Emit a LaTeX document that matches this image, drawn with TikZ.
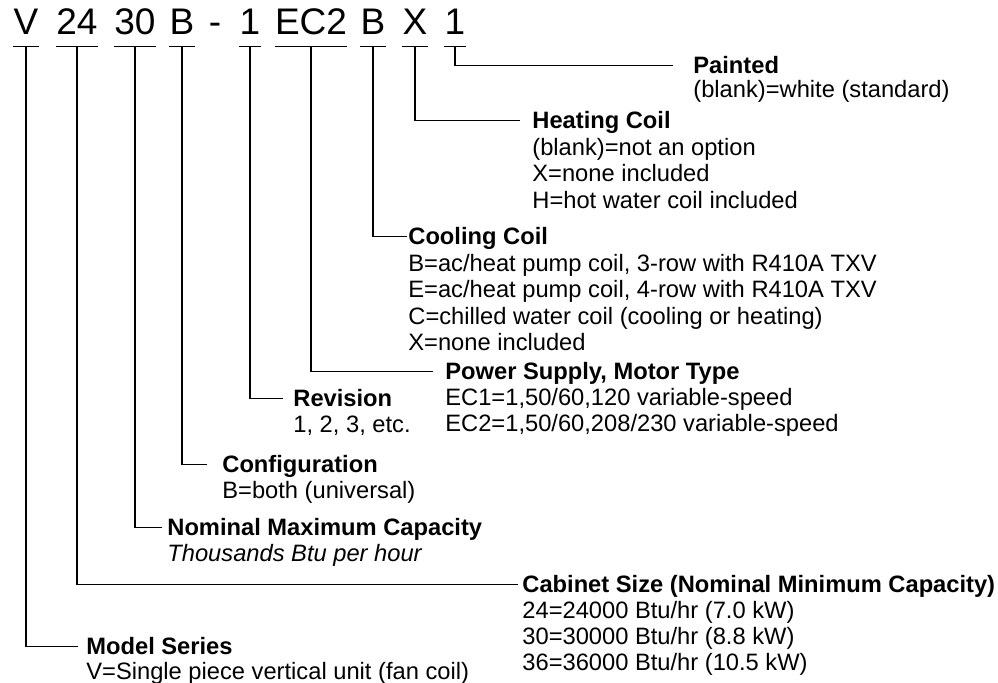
\documentclass[tikz,border=0pt]{standalone}
\usepackage{fontspec}
\setmainfont{Liberation Sans}

\tikzset{
    code/.style={anchor=base, inner sep=0pt, text depth=0pt, font=\fontsize{18.5}{20}\selectfont},
    ttl/.style={anchor=base west, inner sep=0pt, text height=8.5pt, text depth=0pt, font=\fontsize{11.85}{13}\selectfont\bfseries},
    dsc/.style={anchor=base west, inner sep=0pt, font=\fontsize{11.85}{13}\selectfont},
    lead/.style={line width=0.6pt}
}

\begin{document}
\begin{tikzpicture}[x=0.5pt,y=-0.5pt]
    \useasboundingbox (0,0) rectangle (998,683);

    %model number characters
        \node[code] (ser) at (26,35) {V};
        \node[code] (cab) at (77,35) {24};
        \node[code] (cap) at (135,35) {30};
        \node[code] (cfg) at (182,35) {B};
        \node[code] (dash) at (215,35) {-};
        \node[code] (rev) at (250,35) {1};
        \node[code] (pwr) at (311,35) {EC2};
        \node[code] (clg) at (373,35) {B};
        \node[code] (htg) at (415,35) {X};
        \node[code] (pnt) at (455,35) {1};

    %underlines
        \foreach \c in {ser,cab,cap,cfg,rev,pwr,clg,htg,pnt}
            \draw[lead] ([yshift=-5.5pt]\c.south west) -- coordinate (\c-u) ([yshift=-5.5pt]\c.south east);

    %titles
        \node[ttl] (pnt-t) at (693,74) {Painted};
        \node[ttl] (htg-t) at (532,129) {Heating Coil};
        \node[ttl] (clg-t) at (408,245) {Cooling Coil};
        \node[ttl] (pwr-t) at (445,380) {Power Supply, Motor Type};
        \node[ttl] (rev-t) at (293,407) {Revision};
        \node[ttl] (cfg-t) at (222,473) {Configuration};
        \node[ttl] (cap-t) at (167,536) {Nominal Maximum Capacity};
        \node[ttl] (cab-t) at (522,593) {Cabinet Size (Nominal Minimum Capacity)};
        \node[ttl] (ser-t) at (86,655) {Model Series};

    %descriptions
        \node[dsc] (pnt-1) at ([yshift=-12pt]pnt-t.base west) {(blank)=white (standard)};
        \foreach \ln [count=\i] in {{(blank)=not an option},{X=none included},{H=hot water coil included}}
            \node[dsc] (htg-\i) at ([yshift=-\i*13.2pt]htg-t.base west) {\ln};
        \foreach \ln [count=\i] in {{B=ac/heat pump coil, 3-row with R410A TXV},{E=ac/heat pump coil, 4-row with R410A TXV},{C=chilled water coil (cooling or heating)},{X=none included}}
            \node[dsc] (clg-\i) at ([yshift=-\i*13.2pt]clg-t.base west) {\ln};
        \foreach \ln [count=\i] in {{EC1=1,50/60,120 variable-speed},{EC2=1,50/60,208/230 variable-speed}}
            \node[dsc] (pwr-\i) at ([yshift=-\i*13pt]pwr-t.base west) {\ln};
        \node[dsc] (rev-1) at ([yshift=-13pt]rev-t.base west) {1, 2, 3, etc.};
        \node[dsc] (cfg-1) at ([yshift=-13pt]cfg-t.base west) {B=both (universal)};
        \node[dsc, font=\fontsize{11.85}{13}\selectfont\itshape] (cap-1) at ([yshift=-13pt]cap-t.base west) {Thousands Btu per hour};
        \foreach \ln [count=\i] in {{24=24000 Btu/hr (7.0 kW)},{30=30000 Btu/hr (8.8 kW)},{36=36000 Btu/hr (10.5 kW)}}
            \node[dsc] (cab-\i) at ([yshift=-\i*13pt]cab-t.base west) {\ln};
        \node[dsc] (ser-1) at ([yshift=-12.5pt]ser-t.base west) {V=Single piece vertical unit (fan coil)};

    %leaders
        \draw[lead, shorten >=10pt] (pnt-u) |- (pnt-t.west);
        \draw[lead, shorten >=6pt] (htg-u) |- (htg-t.west);
        \draw[lead, shorten >=0.5pt] (clg-u) |- (clg-t.west);
        \draw[lead, shorten >=6pt] (pwr-u) |- (pwr-t.west);
        \draw[lead, shorten >=5pt] (rev-u) |- (rev-t.west);
        \draw[lead, shorten >=7.5pt] (cfg-u) |- (cfg-t.west);
        \draw[lead, shorten >=2.5pt] (cap-u) |- (cap-t.west);
        \draw[lead, shorten >=2pt] (cab-u) |- (cab-t.west);
        \draw[lead, shorten >=4pt] (ser-u) |- (ser-t.west);
\end{tikzpicture}
\end{document}
